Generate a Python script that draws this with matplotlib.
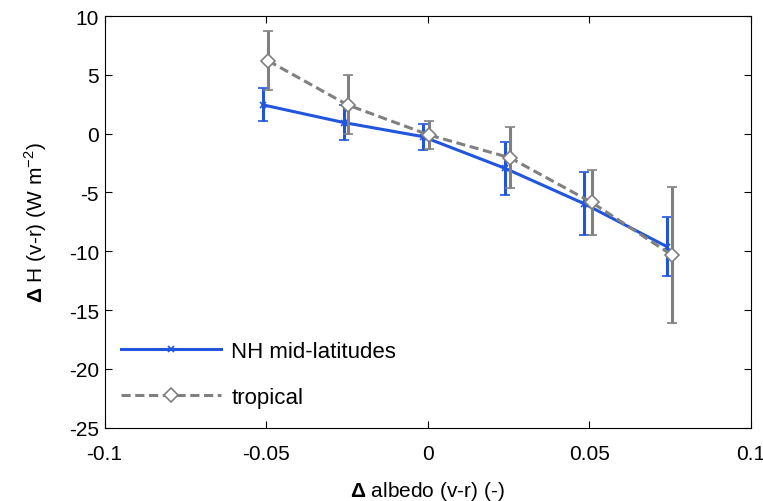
import matplotlib
matplotlib.use('Agg')
import matplotlib.pyplot as plt

plt.rcParams['font.family'] = ['Liberation Sans', 'DejaVu Sans']
plt.rcParams['mathtext.fontset'] = 'custom'
plt.rcParams['mathtext.rm'] = 'Liberation Sans'
plt.rcParams['mathtext.bf'] = 'Liberation Sans:bold'
plt.rcParams['axes.unicode_minus'] = False

# NH mid-latitudes
nh_x = [-0.051, -0.026, -0.0015, 0.024, 0.0484, 0.074]
nh_y = [2.45, 0.95, -0.25, -2.95, -5.95, -9.6]
nh_err = [1.4, 1.45, 1.1, 2.25, 2.7, 2.5]

# tropical
tr_x = [-0.0494, -0.0248, 0.0003, 0.0255, 0.0508, 0.0755]
tr_y = [6.2, 2.45, -0.1, -2.05, -5.85, -10.3]
tr_err = [2.5, 2.5, 1.2, 2.6, 2.8, 5.8]

blue = '#2156dc'
grey = '#808080'

fig, ax = plt.subplots(figsize=(7.63, 5.02), dpi=100)
fig.subplots_adjust(left=0.137, right=0.984, top=0.966, bottom=0.146)

ax.errorbar(nh_x, nh_y, yerr=nh_err, color=blue, lw=2.2, marker='x', ms=5,
            mew=1.2, capsize=3.5, capthick=2.2, elinewidth=2.2,
            label='NH mid-latitudes', zorder=2)
ax.errorbar(tr_x, tr_y, yerr=tr_err, color=grey, lw=2.2, ls='--', marker='D', ms=7,
            mfc='white', mec=grey, mew=1.2, capsize=3.5, capthick=2.2, elinewidth=2.2,
            dashes=(3, 1.5), label='tropical', zorder=3)

ax.set_xlim(-0.1, 0.1)
ax.set_ylim(-25, 10)
ax.set_xticks([-0.1, -0.05, 0, 0.05, 0.1])
ax.set_xticklabels(['-0.1', '-0.05', '0', '0.05', '0.1'])
ax.set_yticks(range(-25, 11, 5))
ax.tick_params(direction='in', top=True, right=True, labelsize=15, length=5, pad=4)
ax.tick_params(axis='x', pad=12)

ax.set_xlabel('$\\mathbf{\\Delta}$ albedo (v-r) (-)', fontsize=15, labelpad=11)
ax.set_ylabel('$\\mathbf{\\Delta}$ H (v-r) (W m$^{-2}$)', fontsize=15, labelpad=14)

h, l = ax.get_legend_handles_labels()
h = [x[0] for x in h]
ax.legend(h, l, loc='lower left', frameon=False, fontsize=16, handlelength=4.5,
          handletextpad=0.45, labelspacing=1.1, bbox_to_anchor=(-0.005, 0.0))

fig.savefig('out.png', dpi=100)
